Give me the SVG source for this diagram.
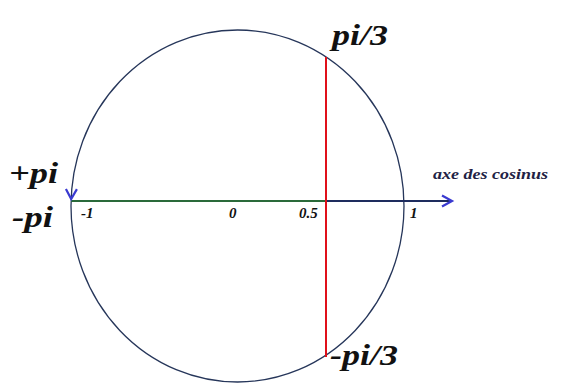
<svg xmlns="http://www.w3.org/2000/svg" width="578" height="383" viewBox="0 0 578 383">
<defs>
<marker id="arr" markerWidth="14" markerHeight="14" refX="11" refY="7" orient="auto" markerUnits="userSpaceOnUse">
<path d="M1,1.5 L11,7 L1,12.5" fill="none" stroke="#3a3ad0" stroke-width="2.2"/>
</marker>
</defs>
<style>
text{font-family:"Liberation Serif","Times New Roman",serif;font-weight:bold;font-style:italic;fill:#111}
.big{font-size:29px}
.tick{font-size:15px}
.ax{font-size:15px;fill:#222244}
</style>
<rect width="578" height="383" fill="#fff"/>
<g id="circle">
<ellipse cx="237.5" cy="206" rx="166.5" ry="176" fill="none" stroke="#26365a" stroke-width="1.3"/>
</g>
<g id="connectors">
<line x1="71" y1="201" x2="326" y2="201" stroke="#2a6a3a" stroke-width="2.2"/>
<line x1="326" y1="201" x2="452" y2="201" stroke="#1e2c5e" stroke-width="2.2" marker-end="url(#arr)"/>
<line x1="326" y1="57" x2="326" y2="357" stroke="#e0101a" stroke-width="2"/>
<path d="M73,170 Q71.5,185 71.2,199" fill="none" stroke="none" marker-end="url(#arr)"/>
</g>
<g id="labels">
<text class="big" x="9" y="183" textLength="49" lengthAdjust="spacingAndGlyphs">+pi</text>
<text class="big" x="12" y="227" textLength="41" lengthAdjust="spacingAndGlyphs">-pi</text>
<text class="big" x="332" y="45" textLength="56" lengthAdjust="spacingAndGlyphs">pi/3</text>
<text class="big" x="330" y="365" textLength="68" lengthAdjust="spacingAndGlyphs">-pi/3</text>
<text class="ax" x="433" y="179" textLength="115" lengthAdjust="spacingAndGlyphs">axe des cosinus</text>
<text class="tick" x="81" y="218">-1</text>
<text class="tick" x="229" y="218">0</text>
<text class="tick" x="299" y="218">0.5</text>
<text class="tick" x="410" y="218">1</text>
</g>
</svg>
